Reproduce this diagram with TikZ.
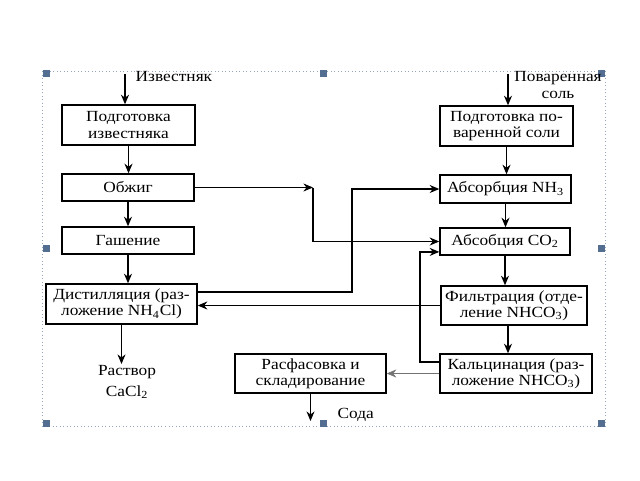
\documentclass[tikz,border=0pt]{standalone}
\usepackage{fontspec}
\setmainfont{Liberation Serif}[FakeStretch=1.12]
\usetikzlibrary{arrows.meta}
\definecolor{handlecolor}{RGB}{84,110,145}
\definecolor{framecolor}{RGB}{150,165,185}
\tikzset{
  procbox/.style={draw, line width=1pt, align=center, inner sep=1pt,
    font=\fontsize{11}{11.5}\selectfont},
  lbl/.style={align=center, inner sep=1pt, font=\fontsize{11}{11.5}\selectfont},
  flow/.style={-{Stealth[length=2.4mm,width=2mm]}, line width=0.9pt},
  thinflow/.style={-{Stealth[length=2.4mm,width=2mm]}, line width=0.4pt, black!55},
  frameln/.style={dotted, line width=0.5pt, framecolor},
}
\newcommand{\selhandle}[1]{%
  \fill[handlecolor] #1 ++(-3.5,-3.5) rectangle ++(7,7);
}

\begin{document}
\begin{tikzpicture}[x=0.25mm, y=-0.25mm]
  \useasboundingbox (0,0) rectangle (640,480);
  % selection frame round the scheme
  \draw[frameln] (42,71) rectangle (605,426);
  \foreach \hx/\hy in {46/73, 323/73, 601/73, 46/248, 601/248, 46/423, 323/423, 601/423}{
    \selhandle{(\hx,\hy)}
  }
  % limestone line (left)
  \node[procbox, minimum width=33.25mm, minimum height=10mm] (prepLime) at (128.5,125)
    {Подготовка\\известняка};
  \node[procbox, minimum width=33mm, minimum height=6.75mm] (burn) at (128,187.5) {Обжиг};
  \node[procbox, minimum width=33mm, minimum height=6.75mm] (slake) at (128,240.5) {Гашение};
  \node[procbox, minimum width=37.75mm, minimum height=10mm] (distil) at (121.5,304)
    {Дистилляция (раз-\\ложение NH\textsubscript{4}Cl)};
  \node[lbl, anchor=north] (cacl) at (127,364) {Раствор\\[3pt]CaCl\textsubscript{2}};
  \node[lbl, anchor=west] (limeLbl) at (134,77) {Известняк};
  \coordinate (limeIn) at (125,74);
  % salt line (right)
  \node[procbox, minimum width=33.25mm, minimum height=10mm] (prepSalt) at (506.5,126)
    {Подготовка по-\\варенной соли};
  \node[procbox, minimum width=32.75mm, minimum height=7mm] (absNH) at (505.5,189)
    {Абсорбция NH\textsubscript{3}};
  \node[procbox, minimum width=32.5mm, minimum height=6.75mm] (absCO) at (505,241.5)
    {Абсобция CO\textsubscript{2}};
  \node[procbox, minimum width=36.5mm, minimum height=9.75mm] (filtr) at (514,305.5)
    {Фильтрация (отде-\\ление NHCO\textsubscript{3})};
  \node[procbox, minimum width=38mm, minimum height=9.75mm] (calc) at (516,373.5)
    {Кальцинация (раз-\\ложение NHCO\textsubscript{3})};
  \node[procbox, minimum width=37.75mm, minimum height=9.75mm] (pack) at (310.5,373.5)
    {Расфасовка и\\складирование};
  \node[lbl] (saltLbl) at (558,85) {Поваренная\\соль};
  \node[lbl, anchor=west] (sodaLbl) at (336,415) {Сода};
  \coordinate (saltIn) at (508,74);
  \coordinate (sodaEnd) at (0,421);
  % turning points of the return lines
  \coordinate (burnTurn) at (313,187.5);
  \coordinate (nhRiser) at (352,0);
  \coordinate (coRiser) at (420,0);
  \coordinate (nhOut) at ([yshift=3mm]distil.east);
  \coordinate (calcOut) at ([yshift=2.9mm]calc.west);
  \coordinate (coIn) at ([yshift=-2.6mm]absCO.west);
  % main flow
  \draw[flow] (limeIn) -- (limeIn |- prepLime.north);
  \draw[flow] (prepLime.south) -- (prepLime.south |- burn.north);
  \draw[flow] (burn.south) -- (burn.south |- slake.north);
  \draw[flow] (slake.south) -- (slake.south |- distil.north);
  \draw[flow] (distil.south) -- (distil.south |- cacl.north);
  \draw[flow] (saltIn) -- (saltIn |- prepSalt.north);
  \draw[flow] (prepSalt.south) -- (prepSalt.south |- absNH.north);
  \draw[flow] (absNH.south) -- (absNH.south |- absCO.north);
  \draw[flow] (absCO.south) -- (absCO.south |- filtr.north);
  \draw[flow] ([xshift=-1.5mm]filtr.south) -- ([xshift=-1.5mm]filtr.south |- calc.north);
  \draw[flow] (pack.south) -- (pack.south |- sodaEnd);
  % CO2 from the kiln
  \draw[flow] (burn.east) -- (burnTurn);
  \draw[flow] (burnTurn) |- (absCO.west);
  % NH3 back from distillation
  \draw[flow] (nhOut) -- (nhOut -| nhRiser) |- (absNH.west);
  % mother liquor to distillation
  \draw[flow] (filtr.west) -- (filtr.west -| distil.east);
  % CO2 back from calcination
  \draw[flow] (calcOut) -- (calcOut -| coRiser) |- (coIn);
  \draw[thinflow] (calc.west) -- (pack.east);
\end{tikzpicture}
\end{document}
